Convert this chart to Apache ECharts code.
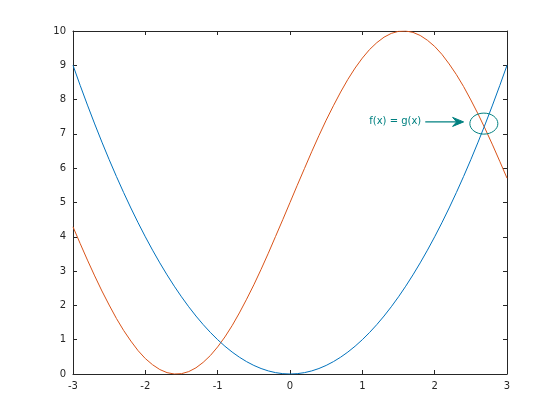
<!DOCTYPE html>
<html>
<head>
<meta charset="utf-8">
<script src="https://cdn.jsdelivr.net/npm/echarts@6/dist/echarts.min.js"></script>
<style>html,body{margin:0;padding:0;background:#fff;}#c{width:560px;height:420px;}</style>
</head>
<body>
<div id="c"></div>
<script>
var xValues = [-3.0,-2.9,-2.8,-2.7,-2.6,-2.5,-2.4,-2.3,-2.2,-2.1,-2.0,-1.9,-1.8,-1.7,-1.6,-1.5,-1.4,-1.3,-1.2,-1.1,-1.0,-0.9,-0.8,-0.7,-0.6,-0.5,-0.4,-0.3,-0.2,-0.1,0.0,0.1,0.2,0.3,0.4,0.5,0.6,0.7,0.8,0.9,1.0,1.1,1.2,1.3,1.4,1.5,1.6,1.7,1.8,1.9,2.0,2.1,2.2,2.3,2.4,2.5,2.6,2.7,2.8,2.9,3.0];
var blueValues = [9.00,8.41,7.84,7.29,6.76,6.25,5.76,5.29,4.84,4.41,4.00,3.61,3.24,2.89,2.56,2.25,1.96,1.69,1.44,1.21,1.00,0.81,0.64,0.49,0.36,0.25,0.16,0.09,0.04,0.01,0.00,0.01,0.04,0.09,0.16,0.25,0.36,0.49,0.64,0.81,1.00,1.21,1.44,1.69,1.96,2.25,2.56,2.89,3.24,3.61,4.00,4.41,4.84,5.29,5.76,6.25,6.76,7.29,7.84,8.41,9.00];
var redValues = [4.29,3.80,3.32,2.86,2.42,2.01,1.62,1.27,0.96,0.68,0.45,0.27,0.13,0.04,0.00,0.01,0.07,0.18,0.34,0.54,0.79,1.08,1.41,1.78,2.18,2.60,3.05,3.52,4.01,4.50,5.00,5.50,5.99,6.48,6.95,7.40,7.82,8.22,8.59,8.92,9.21,9.46,9.66,9.82,9.93,9.99,10.00,9.96,9.87,9.73,9.55,9.32,9.04,8.73,8.38,7.99,7.58,7.14,6.68,6.20,5.71];
var annotationText = 'f(x) = g(x)';
var arrowStart = [1.87, 7.35];
var arrowEnd = [2.40, 7.35];
var ellipseCenter = [2.68, 7.30];

function pairs(ys){ return xValues.map(function(x,i){ return [x, ys[i]]; }); }

var axisColor = '#262626';
var font = 'DejaVu Sans';
var chart = echarts.init(document.getElementById('c'), null, {renderer:'canvas'});
var baseAxis = {
  type:'value',
  axisLine:{show:true, onZero:false, lineStyle:{color:axisColor, width:1}},
  axisTick:{show:true, inside:true, length:4, lineStyle:{color:axisColor}},
  splitLine:{show:false},
  axisLabel:{color:axisColor, fontFamily:font, fontSize:10}
};
chart.setOption({
  animation:false,
  backgroundColor:'#fff',
  grid:{left:73, right:53, top:31, bottom:46},
  xAxis:[
    Object.assign({}, baseAxis, {min:-3, max:3, interval:1, position:'bottom', axisLabel:{color:axisColor, fontFamily:font, fontSize:10, margin:7}}),
    Object.assign({}, baseAxis, {min:-3, max:3, interval:1, position:'top', axisLabel:{show:false}})
  ],
  yAxis:[
    Object.assign({}, baseAxis, {min:0, max:10, interval:1, position:'left', axisLabel:{color:axisColor, fontFamily:font, fontSize:10, margin:7}}),
    Object.assign({}, baseAxis, {min:0, max:10, interval:1, position:'right', axisLabel:{show:false}})
  ],
  series:[
    {type:'line', data:pairs(blueValues), showSymbol:false, symbol:'none', lineStyle:{color:'#0072bd', width:1}, z:3},
    {type:'line', data:pairs(redValues), showSymbol:false, symbol:'none', lineStyle:{color:'#d95319', width:1}, z:2}
  ]
});

var ac = '#008080';
var p1 = chart.convertToPixel({gridIndex:0}, arrowStart);
var p2 = chart.convertToPixel({gridIndex:0}, arrowEnd);
var pc = chart.convertToPixel({gridIndex:0}, ellipseCenter);
chart.setOption({
  graphic:[
    {type:'text', x:p1[0]-4, y:p1[1], style:{text:annotationText, fill:ac, font:'10px "DejaVu Sans"', textAlign:'right', textVerticalAlign:'middle'}},
    {type:'line', shape:{x1:p1[0], y1:p1[1], x2:p2[0]-6, y2:p2[1]}, style:{stroke:ac, lineWidth:1.3}},
    {type:'polygon', shape:{points:[[p2[0],p2[1]],[p2[0]-11,p2[1]-4.5],[p2[0]-7,p2[1]],[p2[0]-11,p2[1]+4.5]]}, style:{fill:ac, stroke:ac, lineWidth:1}},
    {type:'ellipse', shape:{cx:pc[0], cy:pc[1], rx:14, ry:10.5}, style:{fill:null, stroke:ac, lineWidth:1}, z:10}
  ]
});
</script>
</body>
</html>
